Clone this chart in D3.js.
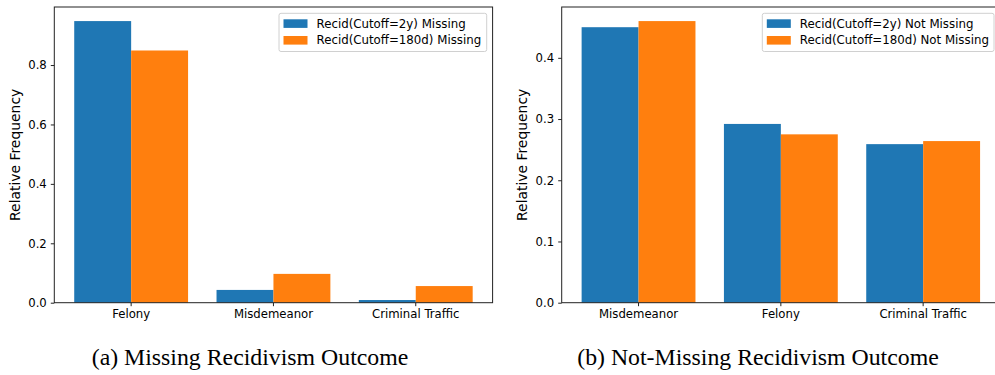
<!DOCTYPE html>
<meta charset="utf-8">
<style>
body { margin: 0; background: #fff; }
svg { font-family: "DejaVu Sans", sans-serif; }
.axis text { font-size: 11.7px; fill: #000; font-family: "DejaVu Sans", sans-serif; }
.axis path, .axis line { stroke: #222; }
.caption { font-family: "Liberation Serif", "Times New Roman", serif; font-size: 23.8px; fill: #000; }
</style>
<svg width="995" height="375"></svg>
<script src="https://d3js.org/d3.v7.min.js"></script>
<script>

// panel (a)
var catsA = ["Felony", "Misdemeanor", "Criminal Traffic"];
var recid2yMissing = [0.948, 0.043, 0.009];
var recid180dMissing = [0.849, 0.097, 0.056];
var ticksA = [0, 0.2, 0.4, 0.6, 0.8];
var legendA = ["Recid(Cutoff=2y) Missing", "Recid(Cutoff=180d) Missing"];

// panel (b)
var catsB = ["Misdemeanor", "Felony", "Criminal Traffic"];
var recid2yNotMissing = [0.450, 0.292, 0.259];
var recid180dNotMissing = [0.460, 0.275, 0.264];
var ticksB = [0, 0.1, 0.2, 0.3, 0.4];
var legendB = ["Recid(Cutoff=2y) Not Missing", "Recid(Cutoff=180d) Not Missing"];

var colors = ["#1f77b4", "#ff7f0e"];
var svg = d3.select("svg");

function panel(o) {
  var g = svg.append("g");
  var top = 7, bottom = 302.7;

  var x = d3.scaleBand().domain(o.cats).range([o.left, o.right])
      .paddingInner(0.2).paddingOuter(0.14);
  var xs = d3.scaleBand().domain([0, 1]).range([0, x.bandwidth()]);
  var ymax = d3.max(o.series, function(s) { return d3.max(s); }) * 1.05;
  var y = d3.scaleLinear().domain([0, ymax]).range([bottom, top]);

  o.series.forEach(function(vals, si) {
    g.selectAll(null)
      .data(vals)
      .enter()
      .append("rect")
      .attr("x", function(d, i) { return x(o.cats[i]) + xs(si); })
      .attr("y", function(d) { return y(d); })
      .attr("width", xs.bandwidth())
      .attr("height", function(d) { return y(0) - y(d); })
      .attr("fill", colors[si]);
  });

  g.append("g")
    .attr("class", "axis")
    .attr("transform", "translate(" + o.left + ",0)")
    .call(d3.axisLeft(y).tickValues(o.ticks).tickFormat(d3.format(".1f"))
      .tickSize(3.5).tickPadding(4))
    .call(function(a) { a.select(".domain").remove(); });

  g.append("g")
    .attr("class", "axis")
    .attr("transform", "translate(0," + bottom + ")")
    .call(d3.axisBottom(x).tickSize(3.5).tickPadding(4))
    .call(function(a) { a.select(".domain").remove(); });

  // spines
  g.append("rect")
    .attr("x", o.left).attr("y", top)
    .attr("width", o.right - o.left).attr("height", bottom - top)
    .attr("fill", "none").attr("stroke", "#222").attr("stroke-width", 1);

  g.append("text")
    .attr("transform", "translate(" + o.ylabelX + "," + ((top + bottom) / 2) + ") rotate(-90)")
    .attr("text-anchor", "middle")
    .attr("dominant-baseline", "central")
    .style("font-size", "13.9px")
    .text("Relative Frequency");

  // legend
  var lg = g.append("g");
  lg.append("rect")
    .attr("x", o.legX).attr("y", 13.3)
    .attr("width", o.legW).attr("height", 38.2)
    .attr("rx", 2)
    .attr("fill", "#fff").attr("fill-opacity", 0.8)
    .attr("stroke", "#d0d0d0").attr("stroke-width", 1);
  o.legend.forEach(function(t, i) {
    lg.append("rect")
      .attr("x", o.legX + 4.5).attr("y", 19.3 + i * 16.7)
      .attr("width", 24).attr("height", 8.6)
      .attr("fill", colors[i]);
    lg.append("text")
      .attr("x", o.legX + 37.5).attr("y", 23.6 + i * 16.7)
      .attr("dominant-baseline", "central")
      .style("font-size", "11.8px")
      .text(t);
  });

  svg.append("text")
    .attr("class", "caption")
    .attr("x", o.capX).attr("y", 365)
    .attr("text-anchor", "middle")
    .text(o.caption);
}

panel({
  cats: catsA, series: [recid2yMissing, recid180dMissing], ticks: ticksA,
  legend: legendA, left: 54.3, right: 492.6, ylabelX: 15,
  legX: 279, legW: 207.7, capX: 250, caption: "(a) Missing Recidivism Outcome"
});

panel({
  cats: catsB, series: [recid2yNotMissing, recid180dNotMissing], ticks: ticksB,
  legend: legendB, left: 561.7, right: 1000, ylabelX: 522.3,
  legX: 762.3, legW: 231.7, capX: 758, caption: "(b) Not-Missing Recidivism Outcome"
});

</script>
